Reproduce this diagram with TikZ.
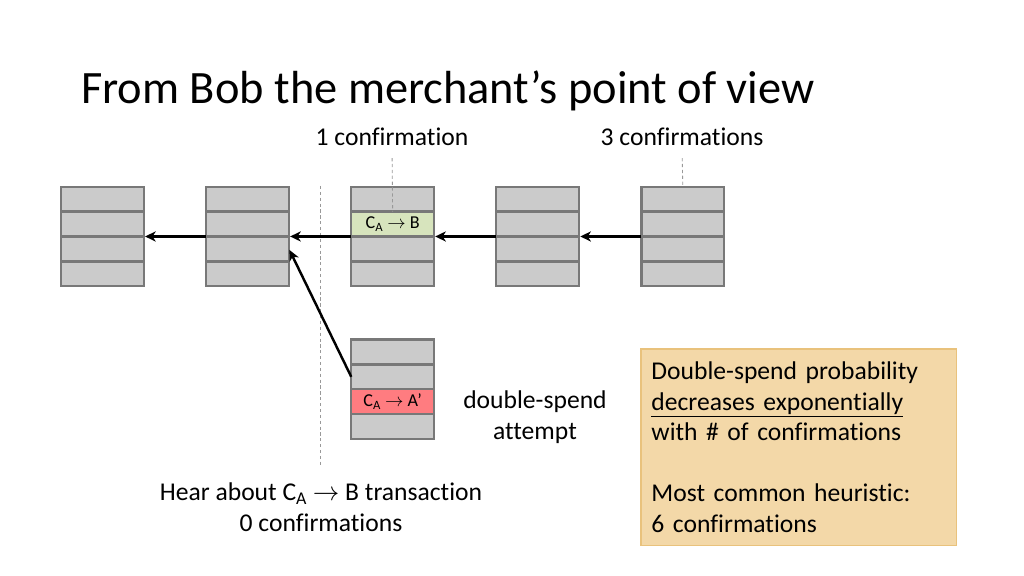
\documentclass[tikz,border=0pt]{standalone}
\usepackage{fontspec}
\setmainfont{Carlito}[Ligatures=NoCommon]
\usetikzlibrary{arrows.meta, positioning}
\definecolor{cellgray}{RGB}{203,203,203}
\definecolor{celledge}{RGB}{120,120,120}
\definecolor{txgreen}{RGB}{215,228,189}
\definecolor{txred}{RGB}{255,124,128}
\definecolor{notefill}{RGB}{243,216,168}
\definecolor{noteedge}{RGB}{233,194,124}

\begin{document}
\begin{tikzpicture}[x=0.9375pt, y=-0.9375pt,
		cell/.style={draw=celledge,fill=cellgray,rectangle,line width=2.2pt,outer sep=0pt,minimum width=77.6pt,minimum height=23.3pt,inner sep=0pt,font=\fontsize{17}{17}\selectfont},
		link/.style={-{Stealth[length=10pt,width=9.5pt,inset=3pt]},line width=2.3pt,shorten >=1.1pt},
		guide/.style={draw=black!40,line width=0.8pt,dash pattern=on 3pt off 2.5pt},
		lbl/.style={inner sep=0pt,align=center,font=\fontsize{24}{28.6}\selectfont}]
		\useasboundingbox (0,0) rectangle (1024,576);
		\node (title) [anchor=base west,inner sep=0pt,font=\fontsize{43.5}{44}\selectfont] at (81,104) {From Bob the merchant’s point of view};
		% main chain
		\node (b1a) [cell] at (102.5,199.2) {};
		\node (b1b) [cell,below=0pt of b1a] {};
		\node (b1c) [cell,below=0pt of b1b] {};
		\node (b1d) [cell,below=0pt of b1c] {};
		\node (b2a) [cell,right=58.4pt of b1a] {};
		\node (b2b) [cell,below=0pt of b2a] {};
		\node (b2c) [cell,below=0pt of b2b] {};
		\node (b2d) [cell,below=0pt of b2c] {};
		\node (b3a) [cell,right=58.4pt of b2a] {};
		\node (b3b) [cell,fill=txgreen,below=0pt of b3a] {C\textsubscript{A} $\rightarrow$ B};
		\node (b3c) [cell,below=0pt of b3b] {};
		\node (b3d) [cell,below=0pt of b3c] {};
		\node (b4a) [cell,right=58.4pt of b3a] {};
		\node (b4b) [cell,below=0pt of b4a] {};
		\node (b4c) [cell,below=0pt of b4b] {};
		\node (b4d) [cell,below=0pt of b4c] {};
		\node (b5a) [cell,right=58.4pt of b4a] {};
		\node (b5b) [cell,below=0pt of b5a] {};
		\node (b5c) [cell,below=0pt of b5b] {};
		\node (b5d) [cell,below=0pt of b5c] {};
		% fork
		\node (f1a) [cell,below=50pt of b3d] {};
		\node (f1b) [cell,below=0pt of f1a] {};
		\node (f1c) [cell,fill=txred,below=0pt of f1b] {C\textsubscript{A} $\rightarrow$ A’};
		\node (f1d) [cell,below=0pt of f1c] {};
		% labels
		\node (conf1) [lbl,anchor=base] at (392,146) {1 confirmation};
		\node (conf3) [lbl,anchor=base] at (682,146) {3 confirmations};
		\node (dspend) [lbl] at (535,417) {double-spend\\attempt};
		\node (hear) [lbl] at (321,507) {Hear about C\textsubscript{A} $\rightarrow$ B transaction\\0 confirmations};
		\node (note) [draw=noteedge,fill=notefill,line width=1.5pt,anchor=north west,minimum width=296pt,minimum height=184.5pt,inner xsep=10pt,text width=276pt,align=left,font=\fontsize{24}{28.6}\selectfont] at (640,348) {Double-spend probability\\\underline{decreases exponentially}\\with \# of confirmations\\[28.6pt]Most common heuristic:\\6 confirmations};
		% guides
		\coordinate (nowtop) at (320,186);
		\coordinate (nowbot) at (320,467);
		\draw [guide] (nowtop) -- (nowbot);
		\draw [guide,shorten <=11pt] (conf1.south) -- (b3a.south);
		\draw [guide,shorten <=11pt] (conf3.south) -- (b5a.north);
		% links
		\draw [link] (b2b.south west) -- (b1b.south east);
		\draw [link] (b3b.south west) -- (b2b.south east);
		\draw [link] (b4b.south west) -- (b3b.south east);
		\draw [link] (b5b.south west) -- (b4b.south east);
		\draw [link] (f1b.west) -- (b2c.east);
	\end{tikzpicture}
\end{document}
